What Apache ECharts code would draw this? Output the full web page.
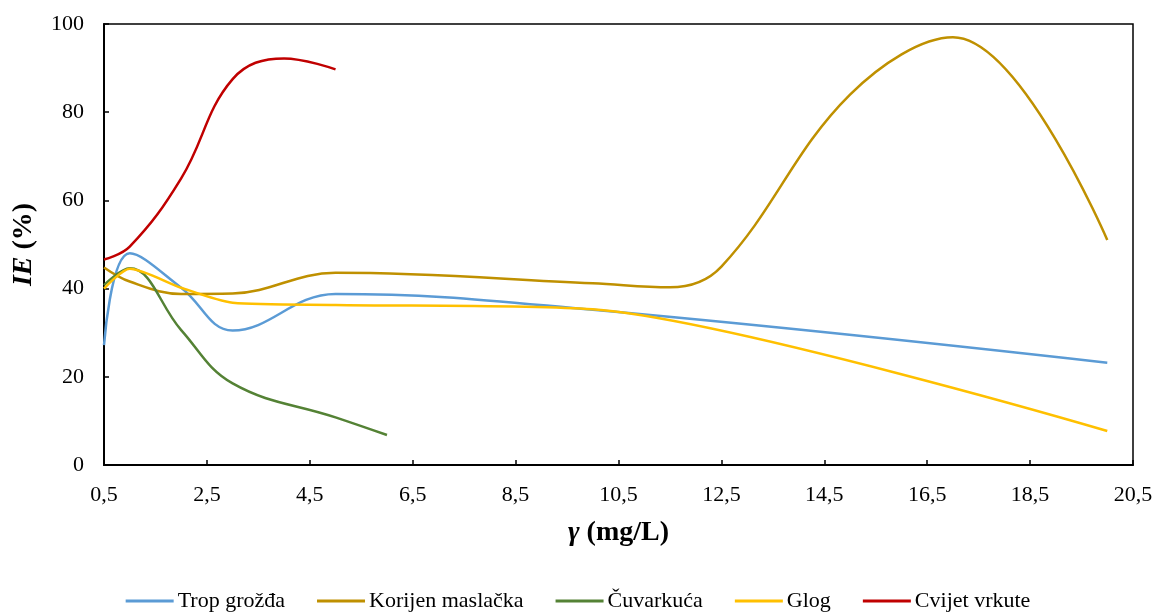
<!DOCTYPE html>
<html><head><meta charset="utf-8">
<script src="https://cdn.jsdelivr.net/npm/echarts@6/dist/echarts.min.js"></script>
<style>html,body{margin:0;padding:0;background:#fff}#c{width:1156px;height:612px}</style>
</head><body><div id="c"></div>
<script>
const seriesNames = ['Trop grožđa', 'Korijen maslačka', 'Čuvarkuća', 'Glog', 'Cvijet vrkute'];
const colors = ['#5B9BD5', '#BF9000', '#548235', '#FFC000', '#C00000'];
const tropX = [0.5, 1, 2, 3, 5, 10, 20];
const tropY = [27.2, 48, 40.2, 30.5, 38.8, 35.2, 23.2];
const korijenX = [0.5, 1, 2, 3, 5, 10, 11.5, 12.5, 15, 17, 20];
const korijenY = [44.8, 41.6, 38.8, 38.9, 43.6, 41.2, 40.3, 45, 84, 97, 51];
const cuvarX = [0.5, 1, 2, 3, 5, 6];
const cuvarY = [40.8, 44.6, 30.6, 18.5, 10.8, 6.8];
const glogX = [0.5, 1, 2, 3, 5, 10, 20];
const glogY = [40, 44.5, 40.2, 36.8, 36.3, 35.3, 7.7];
const cvijetX = [0.5, 1, 2, 3, 4, 5];
const cvijetY = [46.6, 49.5, 65, 87.5, 92.2, 89.7];
const xTicks = [0.5, 2.5, 4.5, 6.5, 8.5, 10.5, 12.5, 14.5, 16.5, 18.5, 20.5];
const yTicks = [0, 20, 40, 60, 80, 100];

const xs = [tropX, korijenX, cuvarX, glogX, cvijetX];
const ys = [tropY, korijenY, cuvarY, glogY, cvijetY];
const smoothBy = [0.4, 0.38, 0.4, 0.25, 0.4];
const font = '"Liberation Serif", "Times New Roman", serif';

const chart = echarts.init(document.getElementById('c'));
chart.setOption({
  animation: false,
  textStyle: {fontFamily: font},
  grid: {left: 104, right: 23, top: 24, bottom: 147, containLabel: false, outerBoundsMode: 'none',
    show: true, borderColor: '#000', borderWidth: 1.5, backgroundColor: 'transparent'},
  xAxis: {
    type: 'value', min: xTicks[0], max: xTicks[xTicks.length - 1], interval: 2,
    axisLine: {show: true, lineStyle: {color: '#000', width: 2}},
    axisTick: {show: true, inside: true, length: 5, lineStyle: {color: '#000', width: 1.5}},
    splitLine: {show: false},
    axisLabel: {color: '#000', fontSize: 22, fontFamily: font, margin: 19,
      formatter: v => String(v).replace('.', ',')},
    name: '{i|γ}{b| (mg/L)}', nameLocation: 'middle', nameGap: 54,
    nameTextStyle: {rich: {
      i: {fontFamily: font, fontSize: 28, fontWeight: 'bold', fontStyle: 'italic', color: '#000'},
      b: {fontFamily: font, fontSize: 28, fontWeight: 'bold', color: '#000'}}}
  },
  yAxis: {
    type: 'value', min: yTicks[0], max: yTicks[yTicks.length - 1], interval: 20,
    axisLine: {show: true, lineStyle: {color: '#000', width: 2}},
    axisTick: {show: true, inside: true, length: 5, lineStyle: {color: '#000', width: 1.5}},
    splitLine: {show: false},
    axisLabel: {color: '#000', fontSize: 22, fontFamily: font, margin: 20},
    name: '{i|IE}{b| (%)}', nameLocation: 'middle', nameGap: 66,
    nameTextStyle: {rich: {
      i: {fontFamily: font, fontSize: 28, fontWeight: 'bold', fontStyle: 'italic', color: '#000'},
      b: {fontFamily: font, fontSize: 28, fontWeight: 'bold', color: '#000'}}}
  },
  legend: {
    top: 585, left: 'center', icon: 'rect', itemWidth: 48, itemHeight: 3, itemGap: 32,
    textStyle: {fontFamily: font, fontSize: 22, color: '#000', padding: [0, 0, 0, -1]},
    data: seriesNames
  },
  series: seriesNames.map((n, i) => ({
    name: n, type: 'line', smooth: smoothBy[i], showSymbol: false, symbol: 'none',
    color: colors[i],
    lineStyle: {width: 2.5, color: colors[i]},
    data: xs[i].map((x, j) => [x, ys[i][j]])
  }))
});
</script></body></html>
